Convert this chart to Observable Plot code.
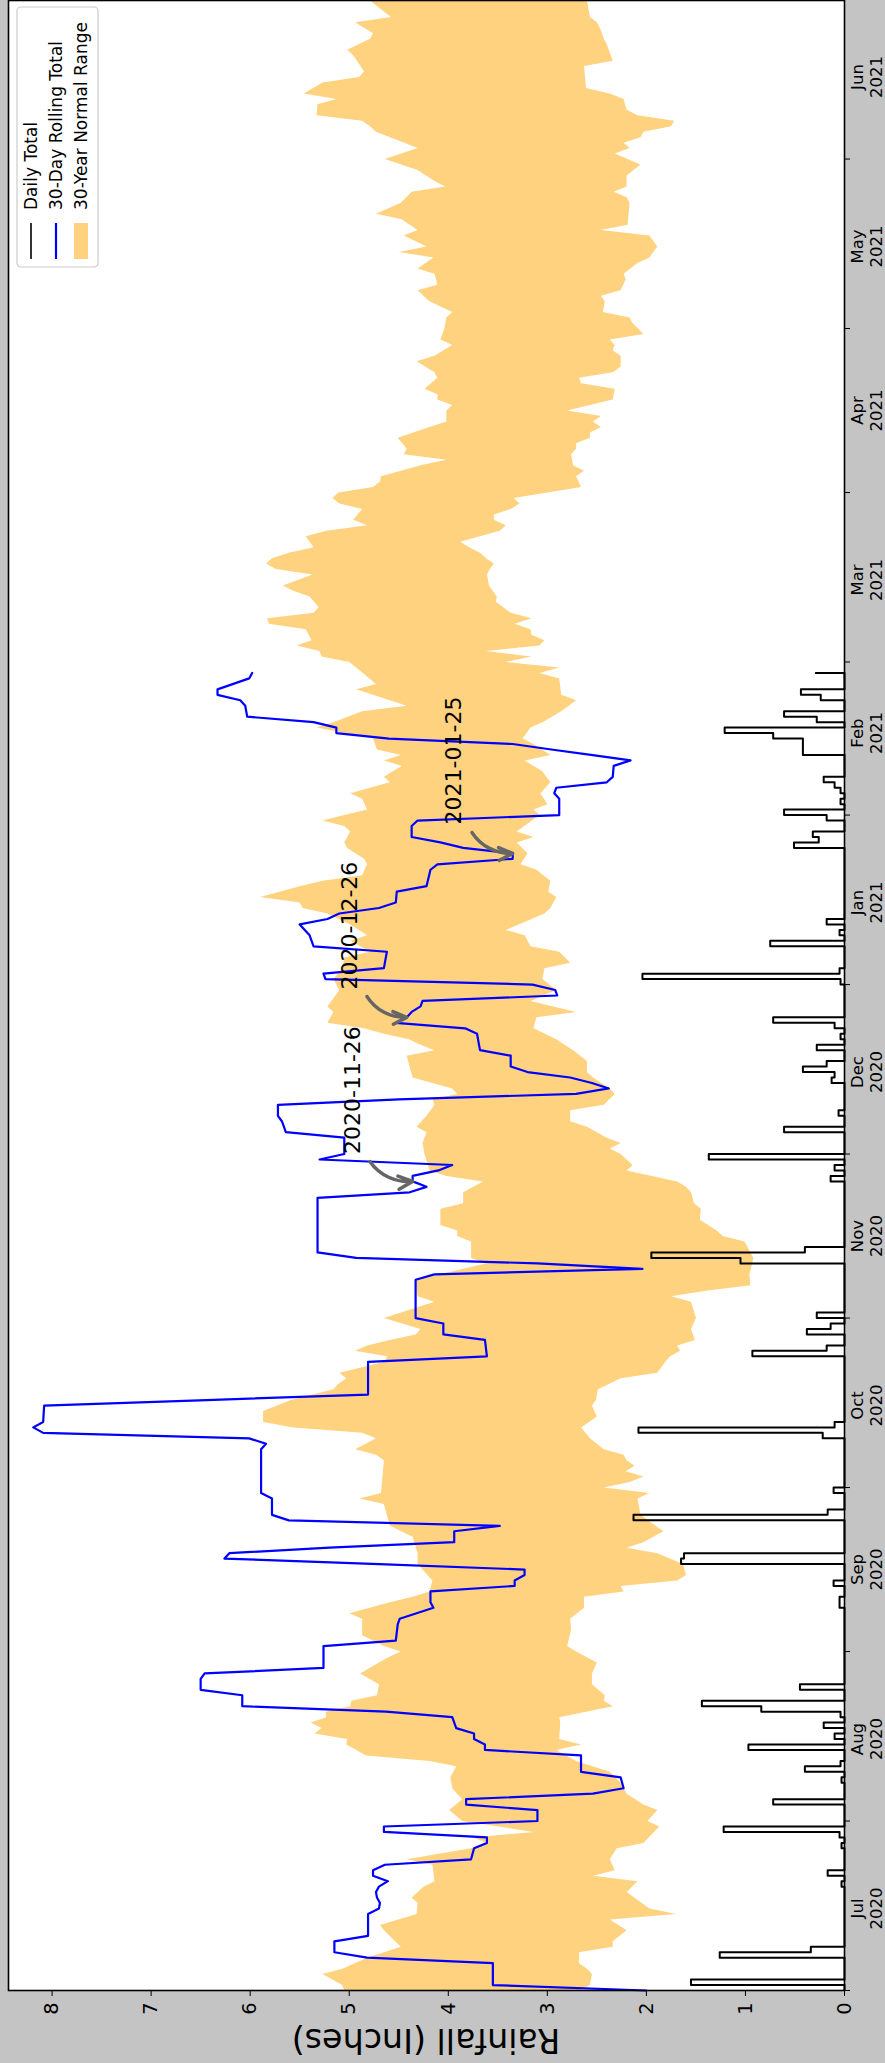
<!DOCTYPE html>
<html>
<head>
<meta charset="utf-8">
<script src="https://cdn.jsdelivr.net/npm/d3@7"></script>
<script src="https://cdn.jsdelivr.net/npm/@observablehq/plot@0.6"></script>
<style>
  html, body { margin: 0; padding: 0; background: #c4c4c4; }
  #wrap { position: relative; width: 885px; height: 2063px; overflow: hidden; background: #c4c4c4; }
  #rot { position: absolute; left: 0; top: 0; width: 2063px; height: 885px;
         transform-origin: 0 0; transform: translate(0px, 2063px) rotate(-90deg); }
</style>
</head>
<body>
<div id="wrap"><div id="rot"></div></div>
<script>
// ---------------- DATA (day = days since 2020-07-01) ----------------
const dailyRain = [[1,1.55],[6,1.26],[7,0.34],[19,0.03],[21,0.17],[26,0.03],[28,0.05],[29,1.22],[34,0.72],[38,0.03],
 [40,0.40],[41,0.04],[44,0.97],[46,0.10],[48,0.21],[50,0.04],[51,0.84],[52,1.44],[55,0.45],[70,0.05],
 [71,0.05],[74,0.11],[78,1.65],[79,1.62],[86,2.13],[87,0.17],[91,0.11],[101,0.22],[102,2.08],[103,0.10],
 [116,0.93],[117,0.18],[120,0.38],[121,0.14],[123,0.28],[133,1.05],[134,1.95],[135,0.40],[148,0.14],[150,0.10],
 [152,1.37],[157,0.61],[160,0.06],[166,0.13],[167,0.10],[168,0.42],[169,0.18],[172,0.28],[174,0.04],[176,0.10],
 [177,0.72],[184,0.04],[185,2.04],[186,0.05],[191,0.75],[193,0.05],[195,0.18],[209,0.51],[210,0.26],[211,0.32],
 [214,0.18],[215,0.61],[217,0.04],[219,0.04],[220,0.10],[221,0.21],[226,0.42],[227,0.42],[228,0.42],[229,0.72],
 [230,1.21],[232,0.28],[233,0.61],[236,0.24],[237,0.44],[241,0.29]];
const dailyLastDay = 241;

const rolling30 = [[0,2.00],[1,3.55],[5,3.55],[6,4.82],[7,5.15],[9,5.15],[10,4.81],[14,4.81],[15,4.70],[16,4.69],
 [17,4.72],[18,4.73],[19,4.70],[20,4.61],[21,4.76],[22,4.76],[23,4.64],[24,3.77],[26,3.74],[27,3.61],
 [28,3.61],[29,4.65],[30,4.65],[31,3.10],[33,3.10],[34,3.82],[35,3.82],[36,2.54],[37,2.23],[39,2.26],
 [40,2.66],[43,2.66],[44,3.63],[45,3.63],[46,3.74],[47,3.74],[48,3.92],[50,3.96],[51,4.63],[52,6.08],
 [54,6.08],[55,6.50],[57,6.50],[58,6.46],[59,5.26],[63,5.26],[64,4.53],[67,4.51],[68,4.49],[70,4.15],
 [71,4.18],[73,4.18],[74,3.33],[75,3.33],[76,3.23],[77,3.23],[78,4.70],[79,6.26],[80,6.21],[81,5.20],
 [82,3.94],[84,3.94],[85,3.48],[86,5.61],[87,5.78],[90,5.78],[91,5.89],[99,5.89],[100,5.84],[101,6.01],
 [102,8.09],[103,8.19],[104,8.09],[107,8.08],[108,6.44],[109,4.81],[115,4.81],[116,3.61],[119,3.63],[120,4.05],
 [122,4.05],[123,4.33],[130,4.33],[131,4.14],[132,2.04],[133,3.10],[134,4.93],[135,5.32],[145,5.32],[146,4.39],
 [147,4.22],[148,4.36],[149,4.36],[150,4.10],[151,3.96],[152,5.30],[153,5.05],[156,5.05],[157,5.64],[159,5.68],
 [160,5.72],[162,5.72],[163,4.50],[164,2.71],[165,2.38],[166,2.55],[167,2.77],[168,3.20],[169,3.37],[171,3.37],
 [172,3.68],[175,3.71],[176,3.83],[177,4.53],[178,4.42],[179,4.37],[180,4.28],[181,4.26],[182,2.90],[183,2.92],
 [184,3.15],[185,5.24],[186,5.26],[187,4.65],[190,4.62],[191,5.36],[193,5.40],[195,5.50],[196,5.22],[197,5.10],
 [198,4.70],[199,4.53],[201,4.52],[202,4.22],[205,4.18],[206,4.11],[207,3.35],[208,3.35],[209,3.85],[210,4.08],
 [211,4.37],[213,4.37],[214,4.31],[215,2.88],[218,2.88],[219,2.93],[220,2.91],[221,2.40],[222,2.34],[224,2.33],
 [225,2.16],[226,2.56],[227,2.96],[228,3.35],[229,4.60],[230,5.13],[231,5.13],[232,5.36],[233,6.03],[235,6.05],
 [236,6.10],[237,6.33],[238,6.33],[239,6.17],[240,6.01],[241,5.98]];

const normalHigh = [[0,5.05],[1,5.07],[3,5.27],[4,5.07],[6,4.82],[8,4.48],[11,4.65],[12,4.69],[14,4.32],[16,4.31],
 [17,4.37],[19,4.25],[20,4.14],[23,4.16],[24,4.42],[26,3.77],[27,3.60],[28,3.75],[29,3.14],[31,3.86],
 [33,3.99],[35,3.86],[37,3.96],[39,3.98],[41,3.92],[42,4.19],[43,4.83],[45,5.03],[46,5.02],[47,5.35],
 [48,5.28],[49,5.39],[50,5.23],[51,5.24],[52,4.99],[53,4.98],[54,4.72],[56,4.70],[58,4.89],[60,4.70],
 [61,4.60],[62,4.48],[63,4.65],[65,4.87],[68,4.87],[69,5.00],[71,4.59],[72,4.36],[73,4.19],[75,4.16],
 [78,4.31],[80,4.31],[83,4.36],[85,4.59],[89,4.65],[90,4.90],[91,4.68],[97,4.65],[98,4.73],[99,4.94],
 [101,4.73],[102,4.87],[103,5.56],[104,5.87],[106,5.87],[108,5.59],[110,5.16],[111,5.11],[112,5.03],[113,5.10],
 [115,4.64],[116,4.62],[117,4.94],[118,4.82],[119,4.59],[120,4.33],[121,4.28],[123,4.65],[126,4.14],[127,4.31],
 [130,4.33],[132,3.85],[133,3.62],[134,3.77],[137,3.77],[138,3.91],[139,3.91],[140,4.08],[143,4.08],[144,3.85],
 [146,3.85],[148,3.65],[149,4.02],[150,4.19],[153,4.24],[155,4.26],[157,4.22],[158,4.32],[160,4.22],[162,4.14],
 [163,4.16],[164,3.91],[165,3.96],[167,4.36],[171,4.42],[172,4.14],[173,4.28],[174,4.40],[175,4.65],[176,4.85],
 [177,5.22],[179,5.16],[180,5.22],[183,5.10],[185,5.16],[187,5.07],[189,5.05],[190,4.79],[192,4.99],[193,4.82],
 [194,4.90],[195,4.99],[197,5.22],[198,5.47],[199,5.50],[200,5.90],[202,5.50],[203,5.27],[204,4.87],[206,4.82],
 [207,4.85],[209,5.02],[210,5.05],[212,4.99],[213,5.05],[214,5.27],[215,5.05],[216,4.82],[218,4.87],[219,4.99],
 [221,4.59],[222,4.65],[223,4.56],[224,4.47],[225,4.65],[226,4.48],[227,4.72],[229,4.76],[230,5.05],[231,5.33],
 [232,5.16],[234,4.87],[235,4.42],[238,4.93],[239,4.73],[242,4.93],[243,5.00],[244,5.28],[245,5.30],[246,5.53],
 [247,5.38],[249,5.44],[250,5.81],[251,5.83],[252,5.36],[253,5.31],[255,5.40],[256,5.56],[257,5.67],[259,5.37],
 [260,5.74],[261,5.84],[262,5.78],[263,5.61],[264,5.36],[266,5.44],[267,5.23],[268,4.82],[269,4.96],[271,4.87],
 [272,5.10],[273,5.17],[274,5.11],[275,4.76],[276,4.69],[277,4.68],[278,4.48],[279,4.28],[280,4.02],[281,4.45],
 [282,4.42],[284,4.51],[286,4.19],[287,4.02],[289,4.02],[290,3.96],[291,4.11],[292,4.11],[293,4.24],[295,4.11],
 [296,4.14],[298,4.32],[299,4.14],[301,3.96],[302,4.08],[304,4.04],[306,4.02],[307,3.96],[309,4.19],[311,4.31],
 [312,4.11],[314,4.14],[315,4.31],[317,4.15],[318,4.50],[319,4.22],[321,4.45],[322,4.31],[324,4.47],[325,4.73],
 [327,4.48],[329,4.37],[330,4.03],[331,4.14],[333,4.31],[335,4.64],[337,4.31],[340,4.73],[341,4.79],[342,4.87],
 [343,5.33],[345,5.32],[346,5.13],[347,5.46],[349,5.27],[350,4.90],[351,4.85],[354,4.96],[355,5.02],[357,4.79],
 [358,4.76],[360,4.94],[361,4.58],[364,4.79]];

const normalLow = [[0,2.68],[1,2.57],[3,2.55],[4,2.60],[5,2.68],[7,2.68],[8,2.34],[9,2.34],[11,2.20],[13,2.37],
 [14,1.70],[15,1.97],[18,2.20],[20,2.09],[21,2.54],[22,2.32],[24,2.37],[26,2.30],[27,2.03],[30,1.87],
 [31,1.99],[33,1.89],[34,2.03],[36,2.20],[38,2.26],[40,2.37],[42,2.71],[44,2.91],[45,2.66],[46,2.88],
 [49,2.87],[50,2.88],[52,2.34],[53,2.43],[54,2.42],[56,2.55],[58,2.55],[60,2.50],[62,2.71],[63,2.80],
 [66,2.76],[68,2.77],[70,2.63],[72,2.63],[73,2.23],[74,2.26],[75,1.69],[76,1.60],[78,1.63],[80,1.89],
 [81,2.20],[82,2.03],[84,1.83],[87,2.06],[90,2.09],[91,1.97],[92,2.43],[93,2.17],[94,2.03],[95,2.21],
 [96,2.12],[97,2.20],[98,2.23],[99,2.43],[101,2.57],[103,2.66],[105,2.50],[107,2.55],[108,2.51],[110,2.49],
 [112,2.26],[113,1.89],[115,1.81],[116,1.76],[117,1.66],[118,1.69],[119,1.51],[121,1.55],[123,1.50],[126,1.55],
 [127,1.75],[128,1.40],[129,0.95],[131,0.96],[134,0.92],[137,1.01],[138,1.23],[139,1.29],[141,1.46],[143,1.45],
 [144,1.52],[146,1.55],[147,1.60],[148,1.69],[150,2.20],[151,2.14],[153,2.26],[154,2.37],[155,2.26],[156,2.40],
 [158,2.60],[159,2.77],[161,2.77],[162,2.43],[164,2.32],[165,2.37],[167,2.54],[168,2.60],[170,2.60],[172,2.74],
 [174,2.91],[176,3.14],[178,3.11],[179,2.71],[181,3.17],[183,2.91],[185,3.05],[187,3.03],[188,2.77],[190,2.88],
 [191,3.17],[193,3.23],[194,3.42],[197,3.03],[198,2.97],[200,2.91],[201,2.99],[203,2.97],[205,3.11],[206,3.27],
 [208,3.20],[210,3.31],[211,3.14],[212,3.31],[215,3.08],[216,3.14],[217,3.00],[219,3.07],[221,2.97],[223,3.05],
 [225,3.23],[226,2.97],[228,3.14],[229,3.25],[231,3.17],[232,3.05],[234,2.86],[236,2.71],[237,2.86],[240,2.88],
 [241,3.08],[242,2.88],[243,3.42],[244,3.16],[245,3.62],[246,3.08],[247,3.03],[248,3.16],[249,3.17],[250,3.33],
 [251,3.16],[252,3.37],[254,3.52],[255,3.51],[257,3.59],[259,3.61],[260,3.58],[261,3.54],[262,3.62],[263,3.68],
 [264,3.79],[265,3.88],[267,3.48],[268,3.42],[269,3.54],[270,3.54],[271,3.37],[272,3.28],[273,3.34],[275,2.66],
 [277,2.71],[278,2.63],[279,2.74],[281,2.76],[282,2.71],[283,2.71],[284,2.57],[285,2.57],[286,2.46],[287,2.54],
 [288,2.46],[289,2.80],[291,2.34],[293,2.32],[294,2.66],[295,2.68],[296,2.34],[297,2.26],[299,2.26],[300,2.34],
 [301,2.32],[302,2.37],[303,2.03],[305,2.14],[306,2.17],[307,2.44],[309,2.42],[310,2.46],[311,2.26],[313,2.21],
 [314,2.23],[316,2.09],[317,1.97],[319,1.89],[321,1.97],[322,2.46],[323,2.19],[327,2.17],[328,2.20],[329,2.33],
 [330,2.20],[332,2.20],[334,2.06],[336,2.32],[337,2.17],[338,2.23],[339,2.06],[340,2.03],[341,1.75],[342,1.72],
 [343,2.09],[344,2.20],[346,2.23],[347,2.37],[348,2.61],[352,2.63],[353,2.34],[356,2.40],[357,2.43],[359,2.47],
 [360,2.50],[361,2.57],[364,2.60]];

const annotationLabels = ["2020-11-26", "2020-12-26", "2021-01-25"];
const annotationDays = [148, 178, 208];
const annotationInches = [4.36, 4.42, 3.35];
const annotationTextDays = [153.0, 183.1, 213.3];
const annotationTextInches = [4.96, 4.99, 3.94];
const annotationArrowStartDays = [151.6, 181.8, 211.8];
const annotationArrowStartInches = [4.79, 4.82, 3.76];

const valueTicks = [0, 1, 2, 3, 4, 5, 6, 7, 8];
const monthTickLabels = ["Jul\n2020","Aug\n2020","Sep\n2020","Oct\n2020","Nov\n2020","Dec\n2020",
                         "Jan\n2021","Feb\n2021","Mar\n2021","Apr\n2021","May\n2021","Jun\n2021"];
const legendLabels = ["Daily Total", "30-Day Rolling Total", "30-Year Normal Range"];
const yLabel = "Rainfall (Inches)";

// ---------------- BUILD ----------------
const t0 = Date.UTC(2020, 6, 1);
const toDate = d => new Date(t0 + d * 864e5);

const rainMap = new Map(dailyRain);
const daily = d3.range(0, dailyLastDay + 1).map(d => ({date: toDate(d), value: rainMap.get(d) ?? 0}));
const rolling = rolling30.map(([d, v]) => ({date: toDate(d), value: v}));
const normalPoly = [
  ...normalHigh.map(([d, v]) => ({date: toDate(d), value: v})),
  ...normalLow.slice().reverse().map(([d, v]) => ({date: toDate(d), value: v}))
];
const annotations = annotationLabels.map((label, i) => ({
  label,
  x2: toDate(annotationDays[i]), y2: annotationInches[i],
  x1: toDate(annotationArrowStartDays[i]), y1: annotationArrowStartInches[i],
  tx: toDate(annotationTextDays[i]), ty: annotationTextInches[i]
}));

const monthStarts = d3.utcMonths(new Date(Date.UTC(2020, 6, 1)), new Date(Date.UTC(2021, 6, 1)));
const monthMids = monthStarts.map(d => d3.utcDay.offset(d, 15));
const midLabel = new Map(monthMids.map((d, i) => [+d, monthTickLabels[i]]));

const W = 2063, H = 885;
const svg = Plot.plot({
  width: W, height: H,
  marginLeft: 72, marginRight: 1, marginTop: 8, marginBottom: 41,
  style: {fontFamily: "DejaVu Sans, sans-serif", background: "transparent", color: "black", overflow: "visible"},
  x: {type: "utc", domain: [toDate(0), toDate(364)]},
  y: {domain: [0, 8.44]},
  marks: [
    Plot.frame({fill: "white", stroke: null}),
    Plot.line(normalPoly, {x: "date", y: "value", fill: "#ffd27f", stroke: "none"}),
    Plot.line(daily, {x: "date", y: "value", curve: "step-after", stroke: "black", strokeWidth: 2}),
    Plot.line(rolling, {x: "date", y: "value", stroke: "#0000ff", strokeWidth: 2.2}),
    Plot.arrow(annotations, {x1: "x1", y1: "y1", x2: "x2", y2: "y2", bend: -30, stroke: "#666666",
      strokeWidth: 3.5, headLength: 9, headAngle: 50}),
    Plot.text(annotations, {x: "tx", y: "ty", text: "label", textAnchor: "start", lineAnchor: "middle",
      fontSize: 22, fill: "black"}),
    Plot.axisY({ticks: valueTicks, tickSize: 5, tickPadding: 7, fontSize: 19.4, tickFormat: d => String(d), label: null}),
    Plot.axisX({ticks: monthStarts, tickSize: 6, tickFormat: () => "", label: null}),
    Plot.axisX({ticks: monthMids, tickSize: 0, tickPadding: 6, tickFormat: d => midLabel.get(+d),
      fontSize: 16.5, lineHeight: 1.1, label: null}),
    Plot.frame({stroke: "black", strokeWidth: 1.6})
  ]
});

const s = d3.select(svg);
// y-axis title
s.append("text")
  .attr("transform", "translate(23,426) rotate(-90)")
  .attr("text-anchor", "middle").attr("dominant-baseline", "central")
  .attr("font-size", 33.3).attr("font-family", "DejaVu Sans, sans-serif").attr("fill", "black")
  .text(yLabel);

// legend
const lg = s.append("g").attr("transform", "translate(1796,17)")
  .attr("font-family", "DejaVu Sans, sans-serif").attr("text-anchor", "start");
lg.append("rect").attr("width", 260).attr("height", 81).attr("rx", 4)
  .attr("fill", "white").attr("fill-opacity", 0.8).attr("stroke", "#cccccc").attr("stroke-width", 1.2);
const rows = [14, 39, 64];
lg.append("line").attr("x1", 8).attr("x2", 44).attr("y1", rows[0]).attr("y2", rows[0]).attr("stroke", "black").attr("stroke-width", 1.6);
lg.append("line").attr("x1", 8).attr("x2", 44).attr("y1", rows[1]).attr("y2", rows[1]).attr("stroke", "#0000ff").attr("stroke-width", 2.2);
lg.append("rect").attr("x", 8).attr("width", 36).attr("y", rows[2] - 7).attr("height", 14).attr("fill", "#ffd27f");
legendLabels.forEach((t, i) => {
  lg.append("text").attr("x", 57).attr("y", rows[i]).attr("dominant-baseline", "central")
    .attr("text-anchor", "start").attr("font-size", 17).attr("fill", "black").text(t);
});

document.getElementById("rot").appendChild(svg);
</script>
</body>
</html>
